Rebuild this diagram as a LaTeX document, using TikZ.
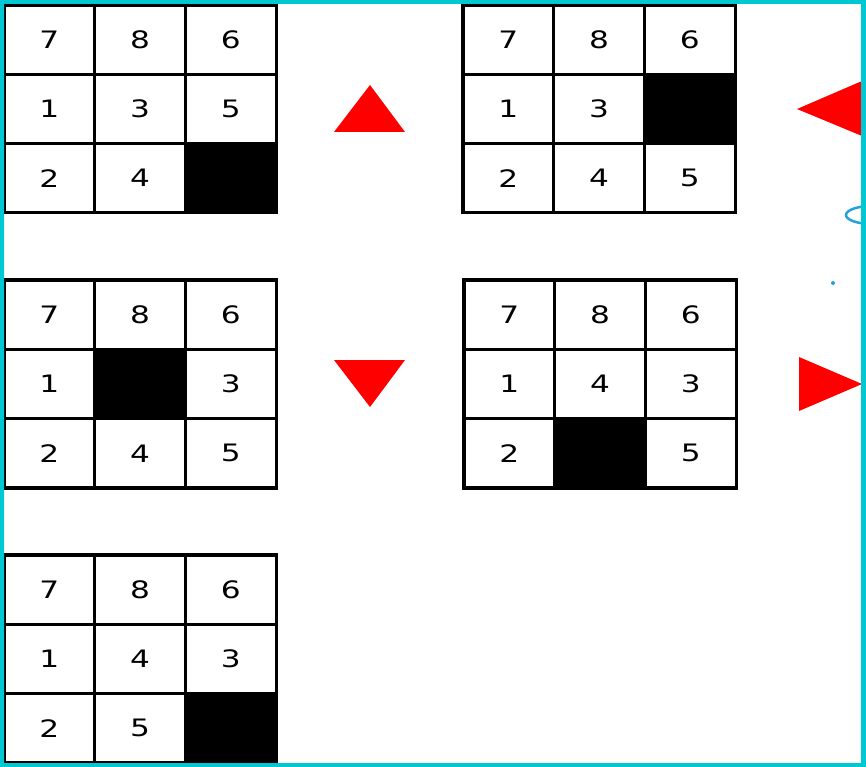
\documentclass[tikz,border=0pt]{standalone}
\usepackage{fontspec}
\setmainfont{DejaVu Sans}
\definecolor{framecol}{RGB}{0,200,210}
\definecolor{ringcol}{RGB}{40,160,220}
\tikzset{
  tile/.style={draw, line width=3.2pt, minimum width=90.7pt, minimum height=69.3pt,
    inner sep=0pt, font=\fontsize{24}{24}\selectfont},
  hole/.style={tile, fill=black},
  move/.style={fill=red, draw=none}
}
% board: name, left, top, entries (0 = empty tile)
\newcommand{\board}[4]{
  \foreach \v [count=\i from 0] in {#4} {
    \pgfmathtruncatemacro{\r}{int(\i/3)}
    \pgfmathtruncatemacro{\c}{mod(\i,3)}
    \ifnum\v=0
      \node[hole] (#1-\r\c) at (#2+\c*90.7+45.35, #3+\r*69.3+34.65) {};
    \else
      \node[tile] (#1-\r\c) at (#2+\c*90.7+45.35, #3+\r*69.3+34.65) {\scalebox{1.3}[1]{\v}};
    \fi
  }
}
\begin{document}
\begin{tikzpicture}[x=1pt, y=-1pt]
\clip (0,0) rectangle (866,767);
\board{b1}{4}{5}{7,8,6,1,3,5,2,4,0}
\board{b2}{463}{5}{7,8,6,1,3,0,2,4,5}
\board{b3}{4}{280}{7,8,6,1,0,3,2,4,5}
\board{b4}{464}{280}{7,8,6,1,4,3,2,0,5}
\board{b5}{4}{555}{7,8,6,1,4,3,2,5,0}
% moves
\fill[move] (334,132) -- (370,85) -- (405,132) -- cycle;
\fill[move] (797,109) -- (862,81) -- (862,136) -- cycle;
\fill[move] (334,360) -- (405,360) -- (370,407) -- cycle;
\fill[move] (799,357) -- (862,384) -- (799,411) -- cycle;
% marks at the edge
\draw[ringcol, line width=2.5pt] (872,215) ellipse [x radius=26, y radius=9];
\fill[ringcol] (833,283) circle (2);
\fill[framecol, even odd rule] (0,0) rectangle (866,767) (4,4) rectangle (861,763);
\end{tikzpicture}
\end{document}
